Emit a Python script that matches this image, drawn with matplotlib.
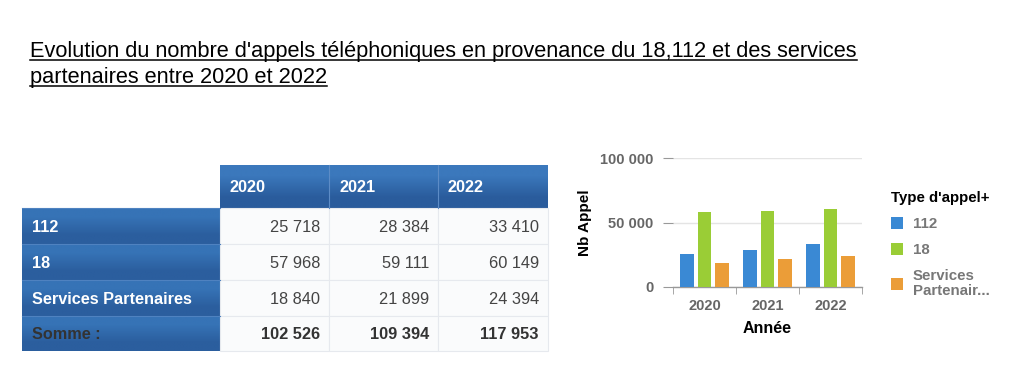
import matplotlib
matplotlib.use("Agg")
import matplotlib.pyplot as plt
import numpy as np
from matplotlib.patches import Patch, Rectangle
from matplotlib.colors import to_rgb

# ---------------- data ----------------
years = ["2020", "2021", "2022"]
series = ["112", "18", "Services Partenaires"]
values_112 = [25718, 28384, 33410]
values_18 = [57968, 59111, 60149]
values_sp = [18840, 21899, 24394]
sum_label = "Somme :"
legend_title = "Type d'appel+"
legend_labels = ["112", "18", "Services\nPartenair..."]
yticks = [0, 50000, 100000]
title_lines = ["Evolution du nombre d'appels téléphoniques en provenance du 18,112 et des services",
               "partenaires entre 2020 et 2022"]

all_values = [values_112, values_18, values_sp]
sums = [sum(v) for v in zip(*all_values)]
colors = ["#3a89d4", "#9acd36", "#eb9d38"]

def fmt(v):
    return f"{v:,}".replace(",", " ")

W, H = 1024, 385
fig = plt.figure(figsize=(W / 100, H / 100), dpi=100)
fig.patch.set_facecolor("white")

bg = fig.add_axes([0, 0, 1, 1])
bg.set_axis_off()

FONT = "Liberation Sans"

def grad_cell(x0, x1, y0, y1, ctop, cbot):
    c = np.array([to_rgb(ctop), to_rgb(cbot)]).reshape(2, 1, 3)
    bg.imshow(c, extent=(x0, x1, y1, y0), aspect="auto", interpolation="bilinear", zorder=1)

# ---------------- title ----------------
title_x = 30
baselines = [57, 83]
target_w = 830
fs = 16
t0 = bg.text(title_x, baselines[0], title_lines[0], fontsize=fs,
             family=FONT, va="baseline", ha="left", color="black")
fig.canvas.draw()
r = fig.canvas.get_renderer()
w = t0.get_window_extent(r).width
fs = fs * target_w / w
t0.set_fontsize(fs)
t1 = bg.text(title_x, baselines[1], title_lines[1], fontsize=fs,
             family=FONT, va="baseline", ha="left", color="black")
fig.canvas.draw()
for t, b in zip([t0, t1], baselines):
    wpx = t.get_window_extent(r).width
    bg.plot([title_x, title_x + wpx], [b + 3, b + 3], color="black", lw=1.1, zorder=3)

# ---------------- table ----------------
col_edges = [22, 220, 329, 438, 548]
row_edges = [165, 208, 244, 280, 316, 351]
htop, hbot = "#3b78bc", "#2a5c9c"

# header
for j in range(3):
    x0, x1 = col_edges[j + 1], col_edges[j + 2]
    grad_cell(x0, x1, row_edges[0], row_edges[1], htop, hbot)
    bg.text(x0 + 10, (row_edges[0] + row_edges[1]) / 2 + 1, years[j], color="white",
            fontsize=11.7, fontweight="bold", family=FONT, va="center", ha="left", zorder=4)
    if j > 0:
        bg.plot([x0, x0], [row_edges[0], row_edges[1]], color="#5d8cc6", lw=0.8, zorder=3)

row_names = series + [sum_label]
row_vals = all_values + [sums]
for i in range(4):
    y0, y1 = row_edges[i + 1], row_edges[i + 2]
    yc = (y0 + y1) / 2 + 1
    grad_cell(col_edges[0], col_edges[1], y0, y1, "#3673b6", "#2b5e9e")
    bg.plot([col_edges[0], col_edges[1]], [y0, y0], color="#4f82c0", lw=0.8, zorder=3)
    last = (i == 3)
    bg.text(col_edges[0] + 10, yc, row_names[i], color="#333333" if last else "white",
            fontsize=11.7, fontweight="bold", family=FONT, va="center", ha="left", zorder=4)
    for j in range(3):
        x0, x1 = col_edges[j + 1], col_edges[j + 2]
        bg.add_patch(Rectangle((x0, y0), x1 - x0, y1 - y0, facecolor="#fafbfc",
                               edgecolor="#e6e9ee", lw=0.8, zorder=2))
        bg.text(x1 - 9, yc, fmt(row_vals[i][j]), color="#333333" if last else "#444444",
                fontsize=11.8, fontweight="bold" if last else "normal", family=FONT,
                va="center", ha="right", zorder=4)

bg.set_xlim(0, W)
bg.set_ylim(H, 0)

# ---------------- bar chart ----------------
ax = fig.add_axes([673 / W, (H - 287) / H, 189 / W, 129 / H])
x = np.arange(len(years))
offsets = [-0.28, 0.0, 0.28]
bw = 0.215
handles = []
for k, (vals, c) in enumerate(zip(all_values, colors)):
    ax.bar(x + offsets[k], vals, width=bw, color=c, zorder=3)
    handles.append(Patch(facecolor=c, edgecolor="none"))

ax.set_xlim(-0.5, 2.5)
ax.set_ylim(0, 100000)
for s in ["top", "right", "left"]:
    ax.spines[s].set_visible(False)
ax.spines["bottom"].set_color("#999999")
ax.spines["bottom"].set_linewidth(1)
ax.set_yticks(yticks)
ax.set_yticklabels([fmt(v) for v in yticks])
ax.set_xticks(x)
ax.set_xticklabels(years)
ax.set_xticks([-0.5, 0.5, 1.5, 2.5], minor=True)
ax.tick_params(axis="x", which="major", length=0, pad=9, labelcolor="#666666")
ax.tick_params(axis="x", which="minor", length=5, color="#999999", direction="out")
ax.tick_params(axis="y", length=7, color="#999999", pad=7, labelcolor="#666666")
for lab in ax.get_xticklabels() + ax.get_yticklabels():
    lab.set_fontfamily(FONT)
    lab.set_fontweight("bold")
    lab.set_fontsize(10.5)
ax.grid(axis="y", color="#e4e4e4", lw=1, zorder=0)
ax.set_axisbelow(True)

ax.set_ylabel("Nb Appel", fontsize=11, fontweight="bold", family=FONT, color="black")
ax.yaxis.set_label_coords((592 - 673) / 189, (287 - 223) / 129)
ax.set_xlabel("Année", fontsize=11.5, fontweight="bold", family=FONT, color="black")
ax.xaxis.set_label_coords(0.5, (287 - 321) / 129)

leg = fig.legend(handles, legend_labels, title=legend_title, loc="upper left",
                 bbox_to_anchor=(891 / W, 1 - 191 / H), frameon=False, borderpad=0,
                 borderaxespad=0,
                 handlelength=0.8, handleheight=0.8, handletextpad=0.67,
                 labelspacing=0.8, alignment="left",
                 prop={"family": FONT, "weight": "bold", "size": 10.8})
leg.get_title().set_fontweight("bold")
leg.get_title().set_fontsize(10.8)
leg.get_title().set_fontfamily(FONT)
leg.get_title().set_color("black")
for t in leg.get_texts():
    t.set_color("#777777")
    t.set_linespacing(1.1)

fig.savefig("out.png", dpi=100, facecolor="white")
